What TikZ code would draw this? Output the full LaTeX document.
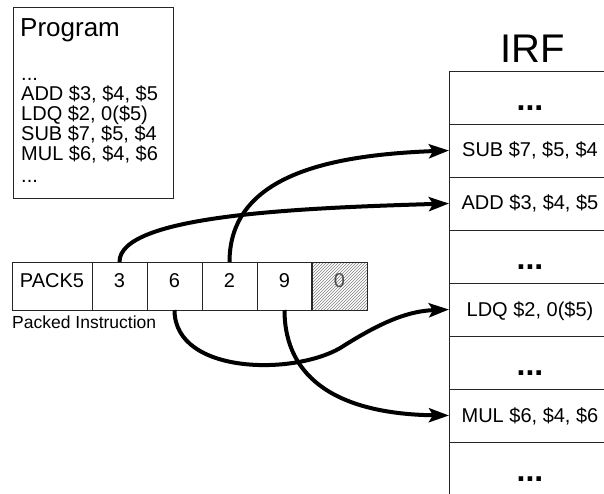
\documentclass[tikz,border=0pt]{standalone}
\usepackage{fontspec}
\setmainfont{Liberation Sans}
\usetikzlibrary{arrows.meta, positioning, patterns}
\tikzset{
  cell/.style={
    draw=black!85, line width=0.8pt, minimum width=55pt, minimum height=48pt,
    inner sep=0pt, outer sep=0pt, font=\fontsize{20}{20}\selectfont,
    text height=14pt, text depth=12pt
  },
  reg/.style={
    draw=black!85, line width=0.8pt, minimum width=162pt, minimum height=53pt,
    inner sep=0pt, outer sep=0pt, font=\fontsize{20}{20}\selectfont,
    text height=13pt, text depth=0pt
  },
  gap/.style={reg, font=\fontsize{32}{32}\selectfont\bfseries, text height=26pt},
  arr/.style={-{Stealth[length=20pt,width=14pt,inset=4pt]}, line width=4pt},
  lbl/.style={font=\fontsize{20}{20}\selectfont, inner sep=0pt, anchor=base west},
}

\begin{document}
\begin{tikzpicture}[x=1pt, y=1pt]
  \useasboundingbox (0,0) rectangle (604,493);

  % Program listing
  \node[draw=black!85, line width=0.8pt, minimum width=160pt, minimum height=191pt,
    anchor=north west] (prog) at (13,486) {};
  \node[lbl, font=\fontsize{26}{26}\selectfont] (progtitle) at (20,456) {Program};
  \node[lbl] (line1) at (21,412) {...};
  \node[lbl] (line2) at (21,392) {ADD \$3, \$4, \$5};
  \node[lbl] (line3) at (21,372) {LDQ \$2, 0(\$5)};
  \node[lbl] (line4) at (21,352) {SUB \$7, \$5, \$4};
  \node[lbl] (line5) at (21,332) {MUL \$6, \$4, \$6};
  \node[lbl] (line6) at (21,310) {...};

  % IRF
  \node[lbl, font=\fontsize{40}{40}\selectfont, anchor=base] (irf) at (533,430) {IRF};
  \node[gap, anchor=north west] (top) at (449,422) {...};
  \node[reg, below=0pt of top] (sub) {SUB \$7, \$5, \$4};
  \node[reg, below=0pt of sub] (add) {ADD \$3, \$4, \$5};
  \node[gap, below=0pt of add] (mid1) {...};
  \node[reg, below=0pt of mid1] (ldq) {LDQ \$2, 0(\$5)};
  \node[gap, below=0pt of ldq] (mid2) {...};
  \node[reg, below=0pt of mid2] (mul) {MUL \$6, \$4, \$6};
  \node[gap, below=0pt of mul] (bot) {...};

  % Packed instruction
  \node[cell, minimum width=80pt, anchor=north west] (pack) at (12,231) {PACK5};
  \node[cell, right=0pt of pack] (c3) {3};
  \node[cell, right=0pt of c3] (c6) {6};
  \node[cell, right=0pt of c6] (c2) {2};
  \node[cell, right=0pt of c2] (c9) {9};
  \node[cell, right=0pt of c9, pattern=north east lines, pattern color=black!50,
    text=black!70] (c0) {0};
  \draw[black!85, line width=1.6pt] (c0.north west) -- (c0.south west);
  \node[lbl, font=\fontsize{17.5}{18}\selectfont, anchor=north west] (packlbl)
    at ([yshift=-6pt]pack.south west) {Packed Instruction};

  % Index fields into the IRF
  \draw[arr] (c3.north) .. controls (119,278) and (300,285) .. (add.west);
  \draw[arr] (c2.north) .. controls (229.5,318) and (330,338) .. (sub.west);
  \draw[arr] (c6.south) .. controls (174.5,117) and (300,117) .. (345,148)
    .. controls (385,173) and (410,182) .. (ldq.west);
  \draw[arr] (c9.south) .. controls (284.5,113) and (340,79) .. (mul.west);
\end{tikzpicture}
\end{document}
